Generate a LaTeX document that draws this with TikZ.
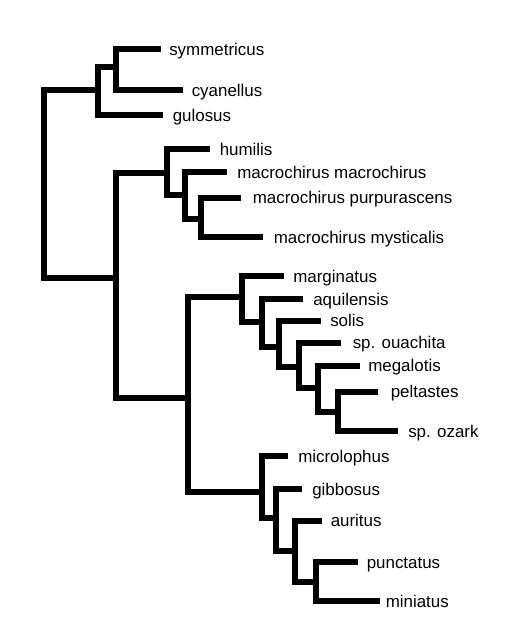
\documentclass[tikz,border=0pt]{standalone}
\usepackage{fontspec}
\setmainfont{Liberation Sans}
\begin{document}
\begin{tikzpicture}[x=0.75pt,y=-0.75pt,
  br/.style={line width=4.4pt, line join=miter},
  lab/.style={anchor=base west, inner sep=0pt, font=\fontsize{12.7}{14}\selectfont}]
\useasboundingbox (0,0) rectangle (510,640);
\fill[white] (0,0) rectangle (510,640);
% internal nodes
\coordinate (R)  at (44,184);
\coordinate (G1) at (97.7,90);
\coordinate (S1) at (116,67.3);
\coordinate (C2) at (116,278);
\coordinate (H)  at (167.3,173.3);
\coordinate (I)  at (185.3,195);
\coordinate (J)  at (200.7,219.3);
\coordinate (K)  at (188.3,397.7);
\coordinate (A)  at (242,296.7);
\coordinate (B)  at (261.7,322);
\coordinate (C)  at (278.7,347);
\coordinate (D)  at (299.3,366.7);
\coordinate (E)  at (318.3,387.7);
\coordinate (F)  at (337.7,412.3);
\coordinate (L)  at (262,491.7);
\coordinate (M)  at (276.3,518.3);
\coordinate (N)  at (295.3,550.7);
\coordinate (O)  at (315.7,581.7);
% tips
\coordinate (tsym) at (160.7,49);
\coordinate (tcya) at (182.7,90);
\coordinate (tgul) at (163.3,115);
\coordinate (thum) at (210,149);
\coordinate (tmac) at (226.7,172.3);
\coordinate (tpur) at (240.7,197.7);
\coordinate (tmys) at (262.5,237.3);
\coordinate (tmar) at (284,276);
\coordinate (taqu) at (303,299);
\coordinate (tsol) at (320.7,320.7);
\coordinate (toua) at (340.7,342.7);
\coordinate (tmeg) at (360,365.7);
\coordinate (tpel) at (377.7,391.7);
\coordinate (toza) at (398.3,431);
\coordinate (tmic) at (287.7,456);
\coordinate (tgib) at (302.3,489.3);
\coordinate (taur) at (321.7,520.7);
\coordinate (tpun) at (358.3,562.3);
\coordinate (tmin) at (380,601);
% branches
\draw[br] (R) |- (G1);
\draw[br] (R) |- (C2);
\draw[br] (G1) |- (S1);
\draw[br] (G1) |- (tgul);
\draw[br] (S1) |- (tsym);
\draw[br] (S1) |- (tcya);
\draw[br] (C2) |- (H);
\draw[br] (C2) |- (K);
\draw[br] (H) |- (thum);
\draw[br] (H) |- (I);
\draw[br] (I) |- (tmac);
\draw[br] (I) |- (J);
\draw[br] (J) |- (tpur);
\draw[br] (J) |- (tmys);
\draw[br] (K) |- (A);
\draw[br] (K) |- (L);
\draw[br] (A) |- (tmar);
\draw[br] (A) |- (B);
\draw[br] (B) |- (taqu);
\draw[br] (B) |- (C);
\draw[br] (C) |- (tsol);
\draw[br] (C) |- (D);
\draw[br] (D) |- (toua);
\draw[br] (D) |- (E);
\draw[br] (E) |- (tmeg);
\draw[br] (E) |- (F);
\draw[br] (F) |- (tpel);
\draw[br] (F) |- (toza);
\draw[br] (L) |- (tmic);
\draw[br] (L) |- (M);
\draw[br] (M) |- (tgib);
\draw[br] (M) |- (N);
\draw[br] (N) |- (taur);
\draw[br] (N) |- (O);
\draw[br] (O) |- (tpun);
\draw[br] (O) |- (tmin);
% labels
\node[lab] (lsym) at (169,55) {symmetricus};
\node[lab] (lcya) at (191.5,96) {cyanellus};
\node[lab] (lgul) at (172.5,121) {gulosus};
\node[lab] (lhum) at (219.5,155) {humilis};
\node[lab] (lmac) at (237,178.3) {macrochirus macrochirus};
\node[lab] (lpur) at (252.5,203.7) {macrochirus purpurascens};
\node[lab] (lmys) at (273.5,243.3) {macrochirus mysticalis};
\node[lab] (lmar) at (293,282) {marginatus};
\node[lab] (laqu) at (313,305) {aquilensis};
\node[lab] (lsol) at (330,326.7) {solis};
\node[lab] (loua) at (352.5,348.7) {sp. ouachita};
\node[lab] (lmeg) at (368,371.7) {megalotis};
\node[lab] (lpel) at (390.5,397.7) {peltastes};
\node[lab] (loza) at (408,437) {sp. ozark};
\node[lab] (lmic) at (298,462) {microlophus};
\node[lab] (lgib) at (312,495.3) {gibbosus};
\node[lab] (laur) at (330.5,526.7) {auritus};
\node[lab] (lpun) at (366.5,568.3) {punctatus};
\node[lab] (lmin) at (385.5,607) {miniatus};
\end{tikzpicture}
\end{document}
